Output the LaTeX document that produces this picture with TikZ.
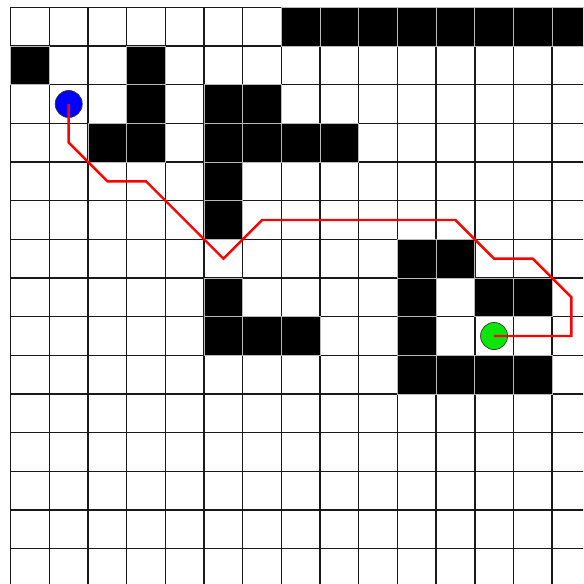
\documentclass[tikz,border=0pt]{standalone}
\definecolor{startblue}{RGB}{0,0,255}
\definecolor{goalgreen}{RGB}{10,230,10}
\tikzset{
  dot/.style={circle, draw=black!80, line width=0.5pt, minimum size=7mm, inner sep=0pt},
  obstacle/.style={fill=black, draw=gray!55, line width=0.5pt},
  route/.style={red, line width=1.8pt, line join=miter}
}
\begin{document}
\begin{tikzpicture}[y=-1cm]
\useasboundingbox (-0.277,-0.189) rectangle (14.80,14.913);
\clip (-0.277,-0.189) rectangle (14.80,14.913);

% Rejilla
	\foreach \i in {0, 1, ..., 15} {
		\draw[black!90, line width=1.1pt] (\i,0) -- (\i,15);
		\draw[black!90, line width=1.1pt] (0,\i) -- (15,\i);
	}

% Obstaculos
	\foreach \c/\r in {7/0, 8/0, 9/0, 10/0, 11/0, 12/0, 13/0, 14/0,
		0/1, 3/1, 3/2, 5/2, 6/2, 2/3, 3/3, 5/3, 6/3, 7/3, 8/3,
		5/4, 5/5, 10/6, 11/6, 5/7, 10/7, 12/7, 13/7,
		5/8, 6/8, 7/8, 10/8, 10/9, 11/9, 12/9, 13/9}
		\draw[obstacle] (\c,\r) rectangle ++(1,1);

% Inicio y meta
\node[dot, fill=startblue] (start) at (1.5,2.5) {};
\node[dot, fill=goalgreen] (goal) at (12.5,8.5) {};

% Camino
	\foreach \x/\y [count=\k] in {1.5/3.5, 2.5/4.5, 3.5/4.5, 5.5/6.5, 6.5/5.5,
		11.5/5.5, 12.5/6.5, 13.5/6.5, 14.5/7.5, 14.5/8.5}
		\coordinate (w\k) at (\x,\y);

\draw[route] (start.center) -- (w1) -- (w2) -- (w3) -- (w4) -- (w5)
	-- (w6) -- (w7) -- (w8) -- (w9) -- (w10) -- (goal.center);
\end{tikzpicture}
\end{document}
